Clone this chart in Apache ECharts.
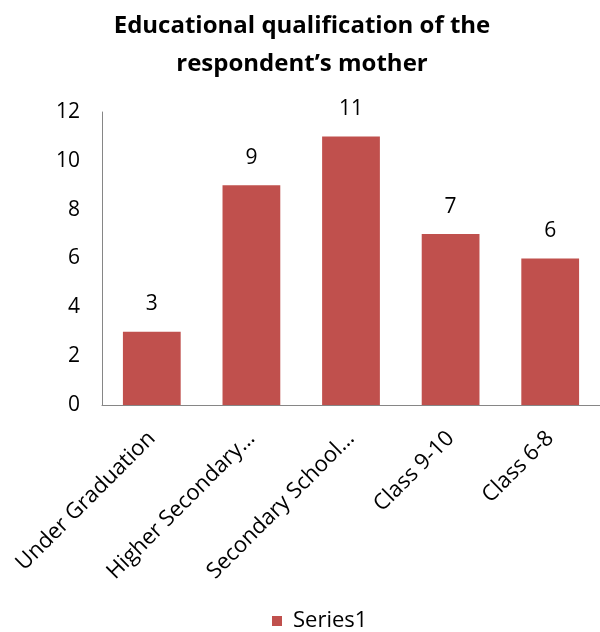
<!DOCTYPE html>
<html><head><meta charset="utf-8">
<script src="https://cdn.jsdelivr.net/npm/echarts@6/dist/echarts.min.js"></script>
<style>html,body{margin:0;padding:0;background:#fff}#c{width:600px;height:632px}</style>
</head><body><div id="c"></div>
<script>
const categories = ["Under Graduation", "Higher Secondary…", "Secondary School…", "Class 9-10", "Class 6-8"];
const values = [3, 9, 11, 7, 6];
const yTicks = [0, 2, 4, 6, 8, 10, 12];
const seriesName = "Series1";
const titleText = "Educational qualification of the\nrespondent’s mother";

const chart = echarts.init(document.getElementById('c'), null, {renderer: 'canvas'});
const font = "'Open Sans', 'Liberation Sans', sans-serif";
chart.setOption({
  animation: false,
  title: {
    text: titleText, left: 297, top: 2, textAlign: 'center',
    textStyle: {fontFamily: font, fontSize: 24, fontWeight: 'bold', color: '#000', lineHeight: 38}
  },
  legend: {
    data: [seriesName], bottom: -5, left: 267, itemWidth: 10, itemHeight: 10, icon: 'rect', itemGap: 6,
    textStyle: {fontFamily: font, fontSize: 22, color: '#000', padding: [0, 0, 0, 6]}
  },
  grid: {left: 102, right: -1, top: 112, bottom: 227},
  xAxis: {
    type: 'category', data: categories,
    axisLine: {lineStyle: {color: '#868686', width: 1}},
    axisTick: {show: false},
    axisLabel: {rotate: 45, interval: 0, margin: 30, fontFamily: font, fontSize: 22, color: '#000'}
  },
  yAxis: {
    type: 'value', min: 0, max: 12, interval: 2,
    axisLine: {show: true, lineStyle: {color: '#868686', width: 1}},
    axisTick: {show: false},
    splitLine: {show: false},
    axisLabel: {margin: 22, fontFamily: font, fontSize: 21, color: '#000',
      formatter: v => yTicks.includes(v) ? String(v) : ''}
  },
  series: [{
    name: seriesName, type: 'bar', data: values, barCategoryGap: '42%',
    itemStyle: {color: '#C0504D'},
    label: {show: true, position: 'top', distance: 17, fontFamily: font, fontSize: 21, color: '#000'}
  }]
});
</script></body></html>
